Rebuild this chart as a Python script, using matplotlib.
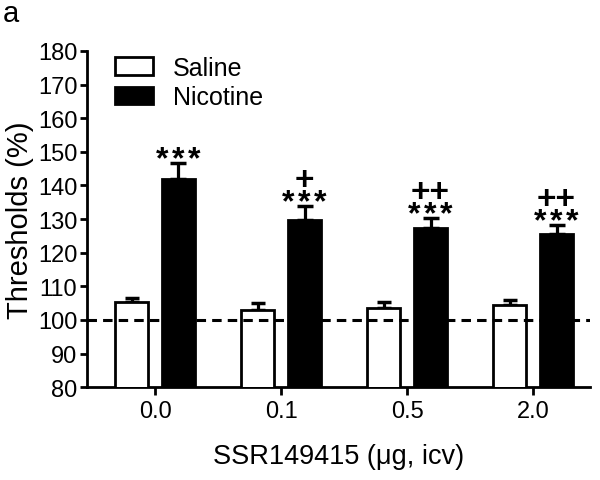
import numpy as np
import matplotlib
matplotlib.use("Agg")
import matplotlib.pyplot as plt

plt.rcParams['font.family'] = ['Liberation Sans', 'DejaVu Sans']

doses = ["0.0", "0.1", "0.5", "2.0"]
saline = [105.4, 102.9, 103.4, 104.3]
saline_err = [1.0, 2.1, 1.8, 1.6]
nicotine = [141.9, 129.8, 127.3, 125.7]
nicotine_err = [4.7, 4.0, 2.9, 2.5]
stars = ["***", "***", "***", "***"]
plus = ["", "+", "++", "++"]

fig = plt.figure(figsize=(6, 4.81), dpi=100)
ax = fig.add_axes([0.145, 0.193, 0.838, 0.699])

x = np.arange(len(doses))
w = 0.26
off = 0.186

ax.bar(x - off, saline, w, color="white", edgecolor="black", linewidth=2, label="Saline", zorder=3)
ax.bar(x + off, nicotine, w, color="black", edgecolor="black", linewidth=2, label="Nicotine", zorder=3)
ax.errorbar(x - off, saline, yerr=[np.zeros(4), saline_err], fmt="none", ecolor="black",
            elinewidth=2.3, capsize=5, capthick=2.5, zorder=2)
ax.errorbar(x + off, nicotine, yerr=[np.zeros(4), nicotine_err], fmt="none", ecolor="black",
            elinewidth=2.3, capsize=5.5, capthick=2.5, zorder=2)

ax.axhline(100, color="black", linestyle=(0, (3.1, 2.0)), linewidth=2.2, zorder=4)

# significance marks above nicotine bars (stars spaced out like the original)
for i in range(len(doses)):
    top = nicotine[i] + nicotine_err[i]
    n = len(stars[i])
    for j, ch in enumerate(stars[i]):
        ax.annotate(ch, (x[i] + off, top), xytext=((j - (n - 1) / 2) * 11.5, -3),
                    textcoords="offset points", ha="center", va="baseline",
                    fontsize=23, fontweight="bold")
    if plus[i]:
        ax.annotate(plus[i], (x[i] + off, top), xytext=(0, 12.5), textcoords="offset points",
                    ha="center", va="baseline", fontsize=24, fontweight="bold")

ax.set_ylim(80, 180)
ax.set_yticks(np.arange(80, 181, 10))
ax.set_xlim(-0.54, 3.45)
ax.set_xticks(x)
ax.set_xticklabels(doses)
ax.tick_params(axis="y", labelsize=17, width=2, length=5, pad=2)
ax.tick_params(axis="x", labelsize=17, width=2, length=5.5, pad=4)
for s in ["top", "right"]:
    ax.spines[s].set_visible(False)
for s in ["left", "bottom"]:
    ax.spines[s].set_linewidth(2)

ax.set_ylabel("Thresholds (%)", fontsize=21, labelpad=3)
ax.set_xlabel("SSR149415 (μg, icv)", fontsize=19.5, labelpad=15)

ax.legend(loc="upper left", bbox_to_anchor=(0.036, 1.015), borderaxespad=0, frameon=False,
          fontsize=18, handlelength=1.5, handleheight=0.7, handletextpad=0.8, labelspacing=0.22)

fig.text(0.005, 0.955, "a", fontsize=21)

fig.savefig("out.png", dpi=100)
